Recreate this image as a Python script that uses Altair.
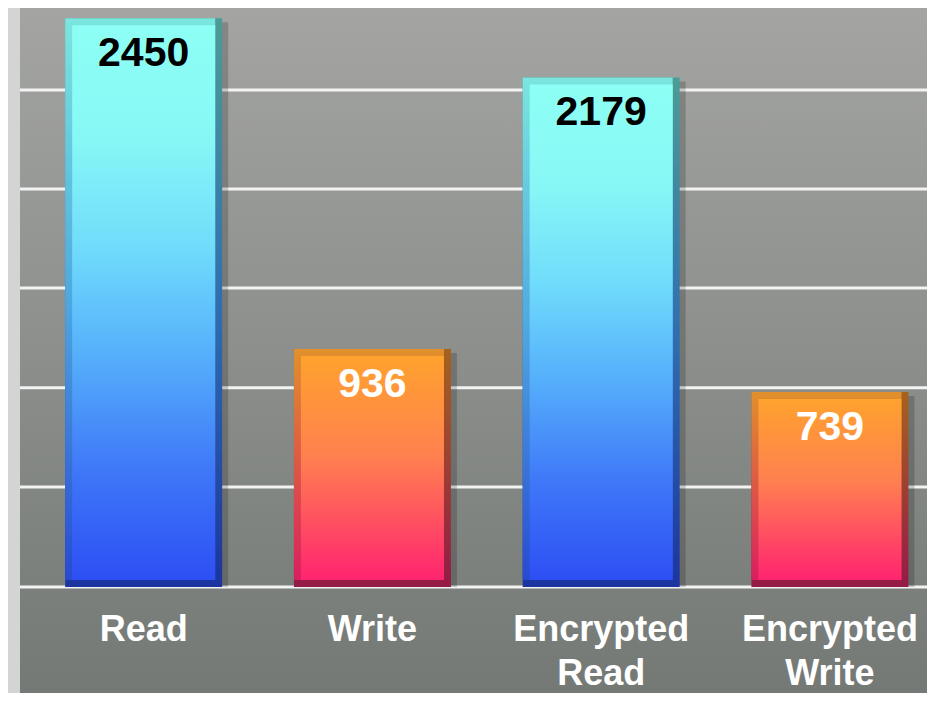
import altair as alt
import pandas as pd

# ---- data ----
categories = ["Read", "Write", "Encrypted|Read", "Encrypted|Write"]
values = [2450, 936, 2179, 739]
kinds = ["read", "write", "read", "write"]
grid_values = [-154, 304, 758, 1215, 1668, 2122]
baseline = -154

df = pd.DataFrame({"category": categories, "value": values, "kind": kinds})
grid_df = pd.DataFrame({"g": grid_values})

W, H = 907, 685
FONT = "Liberation Sans"


def grad(stops):
    return {
        "gradient": "linear", "x1": 0, "y1": 0, "x2": 0, "y2": 1,
        "stops": [{"offset": o, "color": c} for o, c in stops],
    }


face = {
    "read": grad([(0, "#8dfff4"), (0.2, "#88f8f6"), (0.4, "#70dcfb"),
                  (0.6, "#55aefb"), (0.8, "#3f78f8"), (1, "#2d4ff4")]),
    "write": grad([(0, "#ffa22e"), (0.45, "#ff8050"), (1, "#ff2470")]),
}
light = {
    "read": grad([(0, "#7ae6de"), (0.5, "#4fa8e0"), (1, "#284ad0")]),
    "write": grad([(0, "#e0902c"), (1, "#d8205f")]),
}
dark = {
    "read": grad([(0, "#4c9c96"), (0.5, "#2f6fb0"), (1, "#1c34a0")]),
    "write": grad([(0, "#a5621e"), (1, "#951a47")]),
}

x_enc = alt.X(
    "category:N", sort=categories,
    scale=alt.Scale(range=[9.3, 924.3], paddingInner=0, paddingOuter=0),
    axis=alt.Axis(
        title=None, orient="bottom", offset=-106, domain=False, ticks=False,
        grid=False, labelPadding=25, labelFontSize=36, labelFont=FONT,
        labelFontWeight="bold", labelColor="white", labelLineHeight=44,
        labelBaseline="top", labelLimit=0, labelOverlap=False, labelAngle=0,
        labelExpr="split(datum.label, '|')", zindex=1,
    ),
)
y_scale = alt.Scale(domain=[-639, 2497], zero=False, nice=False)
y_enc = alt.Y("value:Q", scale=y_scale, axis=None)

base = alt.Chart(df).encode(x=x_enc, y=y_enc, y2=alt.datum(baseline))

bg = alt.Chart(alt.Data(values=[{"a": 1}])).mark_rect(
    fill=grad([(0, "#a4a5a3"), (0.5, "#8c8f8c"), (1, "#747975")])
).encode(x=alt.value(0), x2=alt.value(W), y=alt.value(0), y2=alt.value(H))

grid = alt.Chart(grid_df).mark_rule(color="#f3f3f3", strokeWidth=3).encode(
    y=alt.Y("g:Q", scale=y_scale, axis=None), x=alt.value(0), x2=alt.value(W)
)

shadow = base.mark_bar(size=157, xOffset=6, yOffset=4, color="black", opacity=0.18)

layers = [bg, grid, shadow]
for k in ["read", "write"]:
    b = base.transform_filter(alt.datum.kind == k)
    layers.append(b.mark_bar(size=157, fill=dark[k]))
    layers.append(b.mark_bar(size=150, xOffset=-3.5, y2Offset=-7, fill=light[k]))
    layers.append(b.mark_bar(size=143, yOffset=7, y2Offset=-7, fill=face[k]))

txt = alt.Chart(df).encode(x=x_enc, y=y_enc, text="value:Q")
for k, col in [("read", "black"), ("write", "white")]:
    t = txt.transform_filter(alt.datum.kind == k)
    layers.append(t.mark_text(font=FONT, fontWeight="bold", fontSize=41,
                              baseline="middle", dy=36, color=col))

chart = alt.layer(*layers).properties(
    width=W, height=H,
    background="#d3d5d5",
    padding={"left": 12, "top": 0, "right": 0, "bottom": 0},
    autosize=alt.AutoSizeParams(type="none"),
).configure_view(stroke=None)

chart.save("out.html", embed_options={"renderer": "svg", "actions": False})
